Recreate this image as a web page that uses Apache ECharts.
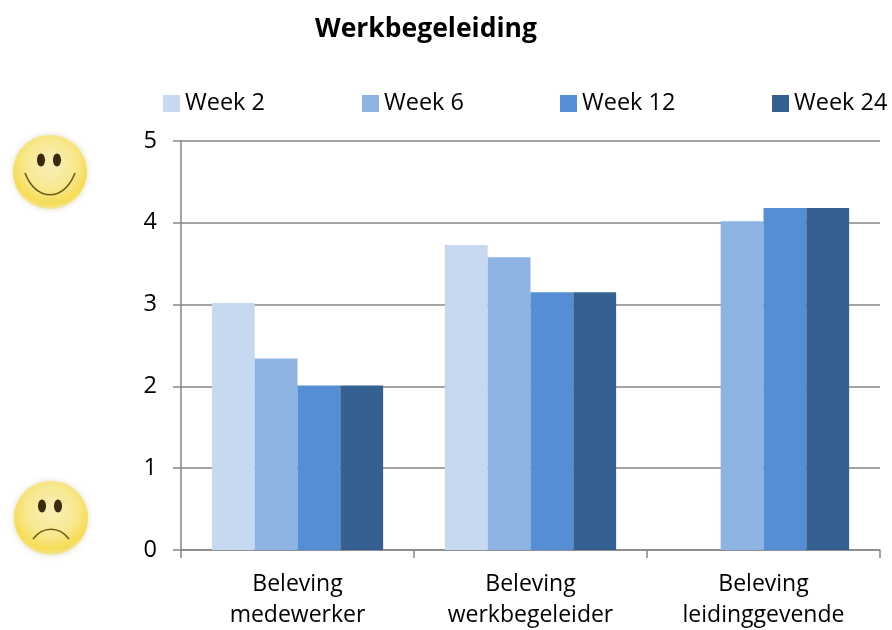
<!DOCTYPE html>
<html><head><meta charset="utf-8">
<style>html,body{margin:0;padding:0;background:#fff}#c{width:892px;height:630px}</style>
<script src="https://cdn.jsdelivr.net/npm/echarts@6/dist/echarts.min.js"></script>
</head><body><div id="c"></div>
<script>
const titleText = 'Werkbegeleiding';
const categories = ['Beleving\nmedewerker', 'Beleving\nwerkbegeleider', 'Beleving\nleidinggevende'];
const week2 = [3.02, 3.73, null];
const week6 = [2.34, 3.58, 4.02];
const week12 = [2.01, 3.15, 4.18];
const week24 = [2.01, 3.15, 4.18];
const seriesNames = ['Week 2', 'Week 6', 'Week 12', 'Week 24'];
const seriesColors = ['#c6d9f1', '#8db3e2', '#558ed5', '#376092'];
const seriesValues = [week2, week6, week12, week24];
const legendLefts = [163, 362, 560, 772];
const font = 'Open Sans';

function face(cx, cy, happy) {
  const fill = {type:'radial',x:0.5,y:0.4,r:0.62,colorStops:[
    {offset:0,color:'#f8efb8'},{offset:0.55,color:'#f8e88f'},{offset:0.85,color:'#f6dc55'},{offset:1,color:'#f3e9ae'}]};
  const mouth = happy
    ? {x1:cx-25,y1:cy+1,cpx1:cx-14,cpy1:cy+30,cpx2:cx+14,cpy2:cy+30,x2:cx+25,y2:cy+1}
    : {x1:cx-18,y1:cy+21,cpx1:cx-8,cpy1:cy+8,cpx2:cx+8,cpy2:cy+8,x2:cx+18,y2:cy+21};
  return [
    {type:'circle',shape:{cx,cy,r:37},style:{fill,shadowBlur:6,shadowColor:'rgba(170,150,90,0.35)'}},
    {type:'ellipse',shape:{cx:cx-9,cy:cy-12,rx:4,ry:6.5},style:{fill:'#3a2a10'}},
    {type:'ellipse',shape:{cx:cx+7,cy:cy-12,rx:4,ry:6.5},style:{fill:'#3a2a10'}},
    {type:'bezierCurve',shape:mouth,style:{stroke:'#6b5a1a',lineWidth:1.6,fill:'none'}}
  ];
}

const chart = echarts.init(document.getElementById('c'), null, {renderer:'canvas'});
chart.setOption({
  animation:false,
  backgroundColor:'#fff',
  title:{text:titleText,left:421,top:11,textAlign:'center',
    textStyle:{fontFamily:font,fontSize:26.5,fontWeight:'bold',color:'#000'}},
  legend:seriesNames.map((n,i)=>({
    data:[n],left:legendLefts[i],top:91.5,padding:0,itemWidth:17,itemHeight:17,itemGap:0,
    textStyle:{fontFamily:font,fontSize:23.5,color:'#000',padding:[0,0,0,0]},
    icon:'rect',selectedMode:false
  })),
  grid:{left:181,right:12,top:141,bottom:80,containLabel:false,outerBoundsMode:'none'},
  xAxis:{type:'category',data:categories,
    axisLine:{onZero:true,lineStyle:{color:'#868686',width:1.5}},
    axisTick:{show:true,length:8,alignWithLabel:false,lineStyle:{color:'#868686',width:1.5}},
    axisLabel:{fontFamily:font,fontSize:23,color:'#000',margin:19,lineHeight:31}},
  yAxis:{type:'value',min:0,max:5,interval:1,
    axisLine:{show:true,lineStyle:{color:'#868686',width:1.5}},
    axisTick:{show:true,length:8,inside:false,lineStyle:{color:'#868686',width:1.5}},
    axisLabel:{fontFamily:font,fontSize:23.5,color:'#000',margin:24,padding:[6,0,0,0]},
    splitLine:{show:true,lineStyle:{color:'#868686',width:1.5}}},
  series:seriesNames.map((n,i)=>({
    name:n,type:'bar',data:seriesValues[i],barGap:0,barCategoryGap:'26.5%',
    itemStyle:{color:seriesColors[i]}
  })),
  graphic:{elements:[...face(50,172,true),...face(51,518,false)]}
});
</script></body></html>
